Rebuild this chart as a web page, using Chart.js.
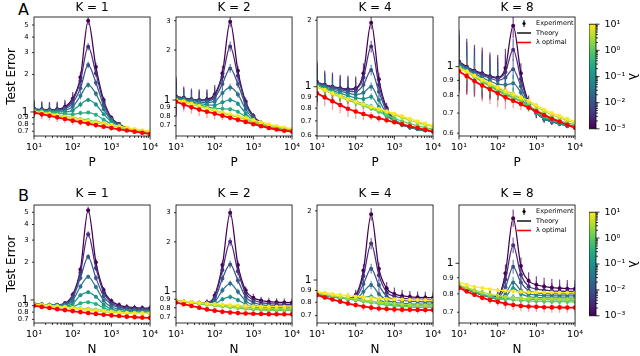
<!DOCTYPE html>
<html>
<head>
<meta charset="utf-8">
<script src="https://cdn.jsdelivr.net/npm/chart.js@4.4.1/dist/chart.umd.min.js"></script>
<style>
body { margin: 0; background: #fff; width: 640px; height: 356px; position: relative; overflow: hidden; font-family: 'DejaVu Sans', sans-serif; }
canvas { position: absolute; }
.letter { position: absolute; font-size: 16px; line-height: 16px; color: #000; }
</style>
</head>
<body>
<div class="letter" style="left:18px;top:1.5px">A</div>
<div class="letter" style="left:18px;top:188px">B</div>
<script>
// sample positions (P or N), shared by all panels
const xVals = [10, 15.85, 25.12, 39.81, 63.1, 100, 158.5, 251.2, 398.1, 631, 1000, 1585, 2512, 3981, 6310, 10000];
const lambdaLabels = ['1e-3', '3e-3', '1e-2', '3e-2', '1e-1', '3e-1', '1', '3', '10'];
const lamColors = ['#440154', '#472c7a', '#3b528b', '#2c728e', '#21918c', '#28ae80', '#5ec962', '#addc30', '#fde725'];
const viridis = ['#440154', '#482475', '#414487', '#355f8d', '#2a788e', '#21918c', '#22a884', '#44bf70', '#7ad151', '#bddf26', '#fde725'];
const legendLabels = ['Experiment', 'Theory', 'λ optimal'];
const titles = ['K = 1', 'K = 2', 'K = 4', 'K = 8'];

// test error, A row (vs P); one row per lambda
const errA1 = [
  [1.06,1.05,1.045,1.05,1.1,1.28,1.9,5.4,2.3,1.25,0.9,0.8,0.74,0.71,0.69,0.68],
  [1.055,1.045,1.04,1.045,1.08,1.24,1.78,3.35,2.05,1.2,0.89,0.795,0.74,0.71,0.69,0.68],
  [1.05,1.04,1.035,1.035,1.06,1.18,1.55,2.39,1.72,1.13,0.875,0.79,0.74,0.71,0.69,0.68],
  [1.045,1.035,1.025,1.02,1.03,1.1,1.35,1.65,1.4,1.05,0.86,0.785,0.735,0.708,0.69,0.68],
  [1.04,1.025,1.01,1.0,1.0,1.03,1.15,1.25,1.15,0.96,0.835,0.775,0.732,0.706,0.69,0.68],
  [1.03,1.015,0.995,0.98,0.965,0.96,0.98,0.99,0.95,0.87,0.8,0.76,0.728,0.705,0.69,0.68],
  [1.02,1.0,0.975,0.95,0.925,0.9,0.88,0.86,0.84,0.815,0.785,0.755,0.73,0.71,0.695,0.683],
  [1.01,0.99,0.965,0.94,0.912,0.885,0.86,0.838,0.818,0.798,0.777,0.755,0.735,0.717,0.703,0.69],
  [1.01,0.99,0.966,0.942,0.916,0.892,0.868,0.846,0.826,0.807,0.788,0.768,0.748,0.73,0.714,0.7]
];
const optA1 = [0.987,0.96,0.932,0.905,0.878,0.852,0.828,0.806,0.784,0.762,0.742,0.725,0.71,0.695,0.68,0.666];

const errA2 = [
  [1.05,1.03,1.01,1.0,1.01,1.08,1.45,2.96,1.5,0.98,0.8,0.73,0.69,0.67,0.66,0.655],
  [1.045,1.025,1.005,0.995,1.0,1.06,1.38,2.1,1.4,0.96,0.8,0.73,0.69,0.67,0.66,0.655],
  [1.04,1.02,1.0,0.99,0.985,1.03,1.25,1.55,1.25,0.93,0.79,0.725,0.69,0.67,0.66,0.655],
  [1.03,1.01,0.99,0.975,0.965,0.98,1.1,1.19,1.08,0.88,0.77,0.72,0.69,0.67,0.66,0.655],
  [1.02,1.0,0.975,0.955,0.935,0.93,0.97,1.0,0.95,0.83,0.75,0.71,0.685,0.67,0.66,0.655],
  [1.01,0.99,0.96,0.935,0.91,0.89,0.885,0.88,0.85,0.79,0.74,0.705,0.685,0.67,0.66,0.655],
  [1.0,0.98,0.95,0.92,0.89,0.865,0.84,0.815,0.79,0.76,0.735,0.71,0.69,0.675,0.665,0.658],
  [1.0,0.975,0.945,0.915,0.885,0.86,0.835,0.81,0.79,0.768,0.745,0.722,0.703,0.688,0.675,0.665],
  [1.0,0.978,0.95,0.92,0.892,0.866,0.842,0.82,0.8,0.78,0.758,0.735,0.715,0.698,0.684,0.672]
];
const optA2 = [0.975,0.94,0.905,0.875,0.85,0.828,0.805,0.782,0.76,0.738,0.715,0.695,0.678,0.664,0.653,0.645];

const errA4 = [
  [1.05,1.02,1.0,0.985,0.975,0.985,1.15,1.95,1.08,0.8,0.71,0.675,0.655,0.643,0.635,0.63],
  [1.045,1.015,0.995,0.98,0.97,0.975,1.1,1.52,1.02,0.79,0.71,0.675,0.655,0.643,0.635,0.63],
  [1.04,1.01,0.99,0.97,0.955,0.95,1.02,1.19,0.95,0.775,0.705,0.673,0.655,0.643,0.635,0.63],
  [1.03,1.0,0.975,0.955,0.935,0.92,0.94,1.0,0.87,0.755,0.7,0.672,0.655,0.643,0.635,0.63],
  [1.02,0.99,0.96,0.935,0.91,0.89,0.88,0.9,0.81,0.74,0.697,0.672,0.656,0.644,0.636,0.631],
  [1.01,0.975,0.945,0.915,0.885,0.86,0.835,0.815,0.775,0.735,0.703,0.678,0.661,0.648,0.639,0.633],
  [1.0,0.965,0.93,0.9,0.87,0.845,0.82,0.795,0.77,0.745,0.72,0.698,0.68,0.665,0.652,0.642],
  [1.0,0.965,0.932,0.902,0.875,0.85,0.828,0.806,0.786,0.766,0.745,0.725,0.705,0.687,0.672,0.66],
  [1.0,0.968,0.937,0.908,0.88,0.855,0.832,0.812,0.793,0.775,0.756,0.736,0.716,0.697,0.681,0.668]
];
const optA4 = [0.934,0.895,0.86,0.826,0.795,0.772,0.752,0.735,0.72,0.705,0.69,0.676,0.662,0.65,0.638,0.626];

const errA8 = [
  [1.04,1.0,0.97,0.95,0.93,0.92,0.99,1.37,0.95,0.76,0.7,0.67,0.655,0.645,0.635,0.63],
  [1.035,0.995,0.965,0.945,0.925,0.915,0.96,1.14,0.91,0.75,0.7,0.67,0.655,0.645,0.635,0.63],
  [1.03,0.99,0.96,0.935,0.915,0.9,0.92,0.98,0.86,0.745,0.7,0.67,0.655,0.645,0.635,0.63],
  [1.02,0.985,0.95,0.92,0.895,0.875,0.87,0.88,0.82,0.74,0.7,0.67,0.655,0.645,0.635,0.63],
  [1.01,0.975,0.94,0.905,0.875,0.85,0.83,0.81,0.78,0.735,0.7,0.675,0.66,0.645,0.635,0.63],
  [1.0,0.965,0.93,0.895,0.865,0.835,0.81,0.79,0.765,0.735,0.705,0.68,0.665,0.65,0.64,0.635],
  [0.995,0.96,0.925,0.89,0.86,0.83,0.805,0.785,0.765,0.74,0.715,0.695,0.675,0.66,0.65,0.64],
  [0.99,0.96,0.93,0.9,0.87,0.845,0.82,0.8,0.78,0.76,0.735,0.71,0.69,0.675,0.66,0.65],
  [0.99,0.965,0.935,0.905,0.88,0.855,0.83,0.81,0.79,0.77,0.745,0.72,0.7,0.685,0.67,0.655]
];
const optA8 = [0.965,0.93,0.895,0.865,0.84,0.815,0.79,0.77,0.75,0.73,0.71,0.69,0.67,0.655,0.64,0.625];

// test error, B row (vs N)
const errB1 = [
  [0.925,0.92,0.915,0.915,0.94,1.1,1.75,5.2,2.0,1.2,0.98,0.91,0.88,0.868,0.862,0.86],
  [0.925,0.92,0.915,0.914,0.935,1.08,1.65,3.34,1.8,1.15,0.95,0.89,0.865,0.853,0.847,0.845],
  [0.925,0.92,0.915,0.912,0.925,1.04,1.5,2.21,1.5,1.07,0.92,0.87,0.85,0.84,0.835,0.833],
  [0.925,0.92,0.914,0.91,0.915,0.99,1.28,1.53,1.27,0.99,0.88,0.845,0.83,0.823,0.82,0.818],
  [0.924,0.918,0.912,0.905,0.9,0.935,1.09,1.15,1.06,0.92,0.845,0.82,0.81,0.805,0.803,0.802],
  [0.923,0.916,0.908,0.898,0.888,0.885,0.94,0.96,0.93,0.865,0.82,0.803,0.795,0.792,0.79,0.79],
  [0.922,0.913,0.903,0.891,0.878,0.865,0.857,0.85,0.838,0.822,0.808,0.798,0.792,0.789,0.787,0.786],
  [0.922,0.912,0.9,0.887,0.872,0.857,0.843,0.83,0.818,0.806,0.796,0.789,0.784,0.781,0.78,0.78],
  [0.923,0.913,0.902,0.89,0.877,0.864,0.851,0.839,0.827,0.816,0.806,0.797,0.79,0.785,0.782,0.78]
];
const optB1 = [0.9,0.88,0.862,0.845,0.83,0.815,0.8,0.786,0.774,0.763,0.753,0.744,0.736,0.729,0.723,0.72];

const errB2 = [
  [0.88,0.87,0.86,0.855,0.86,0.95,1.45,3.0,1.45,1.02,0.92,0.885,0.87,0.864,0.861,0.86],
  [0.88,0.87,0.86,0.855,0.858,0.93,1.35,2.0,1.33,0.98,0.89,0.86,0.848,0.842,0.84,0.838],
  [0.88,0.87,0.86,0.855,0.855,0.9,1.2,1.46,1.17,0.93,0.86,0.835,0.825,0.82,0.818,0.817],
  [0.88,0.87,0.86,0.854,0.85,0.87,1.02,1.12,1.0,0.88,0.83,0.812,0.805,0.801,0.8,0.8],
  [0.88,0.87,0.86,0.852,0.845,0.845,0.9,0.93,0.89,0.84,0.808,0.795,0.789,0.786,0.785,0.785],
  [0.88,0.87,0.859,0.85,0.84,0.832,0.826,0.82,0.812,0.803,0.795,0.788,0.784,0.782,0.781,0.78],
  [0.88,0.869,0.857,0.846,0.835,0.825,0.815,0.805,0.796,0.788,0.781,0.776,0.773,0.771,0.77,0.77],
  [0.881,0.871,0.86,0.85,0.84,0.831,0.823,0.815,0.808,0.801,0.796,0.792,0.789,0.787,0.786,0.786],
  [0.883,0.875,0.866,0.858,0.85,0.843,0.837,0.831,0.826,0.822,0.818,0.815,0.813,0.812,0.811,0.81]
];
const optB2 = [0.86,0.84,0.82,0.8,0.782,0.768,0.757,0.749,0.743,0.739,0.736,0.734,0.732,0.731,0.73,0.73];

const errB4 = [
  [0.87,0.855,0.845,0.838,0.835,0.86,1.1,1.93,1.12,0.92,0.87,0.852,0.845,0.841,0.839,0.838],
  [0.87,0.855,0.845,0.838,0.834,0.85,1.04,1.44,1.05,0.885,0.85,0.835,0.828,0.825,0.823,0.822],
  [0.87,0.855,0.845,0.838,0.832,0.84,0.96,1.12,0.95,0.85,0.825,0.815,0.81,0.806,0.804,0.803],
  [0.87,0.855,0.845,0.837,0.83,0.83,0.89,0.95,0.87,0.815,0.8,0.792,0.788,0.786,0.785,0.785],
  [0.87,0.856,0.845,0.836,0.828,0.822,0.84,0.846,0.82,0.795,0.785,0.779,0.776,0.775,0.775,0.775],
  [0.871,0.857,0.846,0.836,0.827,0.82,0.814,0.808,0.8,0.79,0.782,0.776,0.773,0.772,0.771,0.771],
  [0.873,0.86,0.848,0.838,0.828,0.818,0.808,0.798,0.788,0.779,0.772,0.767,0.763,0.761,0.76,0.76],
  [0.878,0.866,0.855,0.845,0.836,0.827,0.818,0.81,0.802,0.795,0.789,0.784,0.78,0.778,0.777,0.777],
  [0.89,0.88,0.87,0.862,0.855,0.848,0.842,0.836,0.831,0.827,0.824,0.822,0.82,0.819,0.818,0.818]
];
const optB4 = [0.86,0.84,0.822,0.805,0.79,0.778,0.767,0.758,0.752,0.748,0.745,0.743,0.742,0.741,0.74,0.74];

const errB8 = [
  [0.85,0.83,0.81,0.795,0.785,0.79,0.93,1.39,0.98,0.88,0.855,0.845,0.838,0.834,0.831,0.83],
  [0.85,0.83,0.81,0.795,0.785,0.785,0.89,1.14,0.92,0.845,0.83,0.822,0.818,0.816,0.815,0.815],
  [0.85,0.83,0.81,0.795,0.783,0.778,0.84,0.975,0.87,0.82,0.808,0.803,0.8,0.8,0.8,0.8],
  [0.85,0.83,0.81,0.795,0.782,0.772,0.8,0.87,0.82,0.8,0.793,0.79,0.789,0.788,0.788,0.788],
  [0.85,0.83,0.81,0.795,0.78,0.77,0.78,0.834,0.8,0.785,0.78,0.778,0.777,0.777,0.776,0.776],
  [0.85,0.83,0.812,0.797,0.783,0.772,0.772,0.78,0.775,0.77,0.768,0.767,0.766,0.766,0.765,0.765],
  [0.852,0.832,0.815,0.8,0.787,0.777,0.77,0.766,0.763,0.76,0.758,0.757,0.756,0.756,0.755,0.755],
  [0.855,0.837,0.822,0.81,0.798,0.79,0.783,0.778,0.775,0.773,0.772,0.771,0.771,0.77,0.77,0.77],
  [0.87,0.855,0.843,0.835,0.828,0.822,0.818,0.815,0.812,0.81,0.809,0.808,0.808,0.807,0.807,0.807]
];
const optB8 = [0.837,0.815,0.795,0.778,0.765,0.755,0.745,0.738,0.733,0.73,0.728,0.726,0.725,0.725,0.724,0.724];

// relative error-bar half widths (for the smallest lambda) per panel
const barA1 = [0.17,0.16,0.15,0.15,0.14,0.13,0.11,0.08,0.08,0.06,0.045,0.035,0.03,0.025,0.02,0.02];
const barA2 = [0.32,0.17,0.16,0.16,0.15,0.14,0.11,0.08,0.07,0.055,0.045,0.035,0.025,0.02,0.02,0.02];
const barA4 = [0.24,0.16,0.16,0.15,0.15,0.13,0.11,0.07,0.07,0.055,0.04,0.03,0.025,0.02,0.02,0.02];
const barA8 = [0.27,0.24,0.22,0.22,0.2,0.19,0.16,0.1,0.08,0.055,0.04,0.03,0.025,0.02,0.02,0.02];
const barB1 = [0.035,0.035,0.035,0.035,0.045,0.055,0.065,0.065,0.065,0.055,0.055,0.055,0.055,0.055,0.055,0.055];
const barB2 = [0.035,0.035,0.035,0.035,0.045,0.055,0.065,0.065,0.065,0.055,0.055,0.055,0.055,0.055,0.055,0.055];
const barB4 = [0.035,0.035,0.035,0.035,0.045,0.055,0.065,0.065,0.065,0.065,0.065,0.065,0.06,0.06,0.06,0.06];
const barB8 = [0.03,0.03,0.03,0.035,0.045,0.055,0.065,0.065,0.065,0.065,0.065,0.065,0.065,0.065,0.065,0.065];
const lamBarScale = [1, 0.9, 0.8, 0.65, 0.5, 0.4, 0.3, 0.25, 0.2];
const optBarScale = 0.6;

// y ticks per panel
const yTicksA1 = [0.7, 0.8, 0.9, 1, 2, 3, 4, 5];
const yTicksA2 = [0.7, 0.8, 0.9, 1, 2, 3];
const yTicksA4 = [0.6, 0.7, 0.8, 0.9, 1, 2];
const yTicksA8 = [0.6, 0.7, 0.8, 0.9, 1];
const yTicksB1 = [0.7, 0.8, 0.9, 1, 2, 3, 4, 5];
const yTicksB2 = [0.7, 0.8, 0.9, 1, 2, 3];
const yTicksB4 = [0.7, 0.8, 0.9, 1, 2];
const yTicksB8 = [0.7, 0.8, 0.9, 1];
const xLabels = { 10: '10¹', 100: '10²', 1000: '10³', 10000: '10⁴' };
const cbMajor = [0.001, 0.01, 0.1, 1, 10];
const cbLabels = { '-3': '10⁻³', '-2': '10⁻²', '-1': '10⁻¹', '0': '10⁰', '1': '10¹' };

const panels = [
  { row: 0, col: 0, curves: errA1, opt: optA1, bars: barA1, y: [0.641, 5.8], yTicks: yTicksA1, xTitle: 'P' },
  { row: 0, col: 1, curves: errA2, opt: optA2, bars: barA2, y: [0.607, 3.16], yTicks: yTicksA2, xTitle: 'P' },
  { row: 0, col: 2, curves: errA4, opt: optA4, bars: barA4, y: [0.598, 2.07], yTicks: yTicksA4, xTitle: 'P' },
  { row: 0, col: 3, curves: errA8, opt: optA8, bars: barA8, y: [0.587, 1.465], yTicks: yTicksA8, xTitle: 'P' },
  { row: 1, col: 0, curves: errB1, opt: optB1, bars: barB1, y: [0.655, 5.72], yTicks: yTicksB1, xTitle: 'N' },
  { row: 1, col: 1, curves: errB2, opt: optB2, bars: barB2, y: [0.647, 3.34], yTicks: yTicksB2, xTitle: 'N' },
  { row: 1, col: 2, curves: errB4, opt: optB4, bars: barB4, y: [0.65, 2.12], yTicks: yTicksB4, xTitle: 'N' },
  { row: 1, col: 3, curves: errB8, opt: optB8, bars: barB8, y: [0.647, 1.53], yTicks: yTicksB8, xTitle: 'N' }
];

// layout
const colLeft = [34, 176, 317, 459];
const plotW = 118;
const rowTop = [17, 205];
const plotH = [119, 118];
const titleH = [17, 20];
const titlePad = [{ top: 0.8, bottom: 1.8 }, { top: 1.8, bottom: 3.8 }];
const axisH = 40;
const padRight = 12;
const cbLeft = 589, cbW = 7;

Chart.defaults.font.family = 'DejaVu Sans';
Chart.defaults.color = '#000';

function isPow10(v) {
  const l = Math.log10(v);
  return Math.abs(l - Math.round(l)) < 1e-6;
}
function minorTicks(lo, hi) {
  const out = [];
  for (let e = Math.floor(Math.log10(lo)); e < Math.ceil(Math.log10(hi)); e++) {
    for (let m = 1; m < 10; m++) {
      const v = m * Math.pow(10, e);
      if (v >= lo * 0.9999 && v <= hi * 1.0001) out.push(v);
    }
  }
  if (isPow10(hi)) out.push(hi);
  return out;
}

const frameTicks = {
  id: 'frameTicks',
  afterDraw(chart) {
    const { ctx, chartArea: a, scales } = chart;
    ctx.save();
    ctx.strokeStyle = '#000';
    ctx.lineWidth = 0.8;
    ctx.strokeRect(a.left, a.top, a.right - a.left, a.bottom - a.top);
    ctx.beginPath();
    for (const t of scales.x.ticks) {
      const px = scales.x.getPixelForValue(t.value);
      const len = isPow10(t.value) ? 3.5 : 2;
      ctx.moveTo(px, a.bottom); ctx.lineTo(px, a.bottom + len);
    }
    for (const t of scales.y.ticks) {
      const py = scales.y.getPixelForValue(t.value);
      const len = isPow10(t.value) ? 3.5 : 2;
      ctx.moveTo(a.left - len, py); ctx.lineTo(a.left, py);
    }
    ctx.stroke();
    ctx.restore();
  }
};

const errorBars = {
  id: 'errorBars',
  beforeDatasetsDraw(chart) {
    const { ctx, chartArea: a, scales: { x, y } } = chart;
    ctx.save();
    ctx.beginPath();
    ctx.rect(a.left, a.top, a.right - a.left, a.bottom - a.top);
    ctx.clip();
    ctx.lineWidth = 1.2;
    chart.data.datasets.forEach(ds => {
      if (!ds.barFrac) return;
      ctx.strokeStyle = ds.barColor;
      ctx.beginPath();
      ds.data.forEach((p, i) => {
        const f = ds.barFrac[i];
        const px = x.getPixelForValue(p.x);
        ctx.moveTo(px, y.getPixelForValue(p.y * (1 + f)));
        ctx.lineTo(px, y.getPixelForValue(p.y / (1 + f)));
      });
      ctx.stroke();
    });
    ctx.restore();
  }
};

const lambdaLegend = {
  id: 'lambdaLegend',
  afterDraw(chart) {
    const { ctx, chartArea: a } = chart;
    const tx = a.right - 39, s0 = a.right - 58, s1 = a.right - 44;
    const rows = [a.top + 6.5, a.top + 16, a.top + 25.5];
    ctx.save();
    ctx.font = '6.5px "DejaVu Sans"';
    ctx.textBaseline = 'middle';
    ctx.fillStyle = '#000';
    legendLabels.forEach((t, i) => ctx.fillText(t, tx, rows[i]));
    const mx = (s0 + s1) / 2;
    ctx.strokeStyle = '#000';
    ctx.lineWidth = 1;
    ctx.beginPath(); ctx.moveTo(mx, rows[0] - 3.5); ctx.lineTo(mx, rows[0] + 3.5); ctx.stroke();
    ctx.beginPath(); ctx.arc(mx, rows[0], 1.6, 0, Math.PI * 2); ctx.fill();
    ctx.lineWidth = 1.4;
    ctx.beginPath(); ctx.moveTo(s0, rows[1]); ctx.lineTo(s1, rows[1]); ctx.stroke();
    ctx.strokeStyle = '#ff0000';
    ctx.lineWidth = 1.6;
    ctx.beginPath(); ctx.moveTo(s0, rows[2]); ctx.lineTo(s1, rows[2]); ctx.stroke();
    ctx.restore();
  }
};

function withAlpha(hex, a) {
  const n = parseInt(hex.slice(1), 16);
  return `rgba(${n >> 16},${(n >> 8) & 255},${n & 255},${a})`;
}

function makePanel(p) {
  const r = p.row, c = p.col;
  const lw = c === 0 ? 34 : 24;
  const cv = document.createElement('canvas');
  cv.width = lw + plotW + padRight;
  cv.height = titleH[r] + plotH[r] + axisH;
  cv.style.left = (colLeft[c] - lw) + 'px';
  cv.style.top = (rowTop[r] - titleH[r]) + 'px';
  document.body.appendChild(cv);

  const n = p.curves.length;
  const datasets = p.curves.map((vals, j) => ({
    label: 'λ = ' + lambdaLabels[j],
    data: xVals.map((x, i) => ({ x, y: vals[i] })),
    borderColor: lamColors[j],
    backgroundColor: lamColors[j],
    barColor: withAlpha(lamColors[j], 0.7),
    barFrac: p.bars.map(b => b * lamBarScale[j]),
    borderWidth: 1.25,
    pointRadius: 2,
    pointBorderWidth: 0,
    cubicInterpolationMode: 'monotone',
    order: n + 2 - j
  }));
  datasets.push({
    label: 'λ optimal',
    data: xVals.map((x, i) => ({ x, y: p.opt[i] })),
    borderColor: '#ff0000',
    backgroundColor: '#ff0000',
    barColor: 'rgba(255,70,70,0.55)',
    barFrac: p.bars.map(b => b * optBarScale),
    borderWidth: 1.8,
    pointRadius: 2.3,
    pointBorderWidth: 0,
    cubicInterpolationMode: 'monotone',
    order: 0
  });

  const plugins = [errorBars, frameTicks];
  if (c === 3) plugins.push(lambdaLegend);

  new Chart(cv, {
    type: 'line',
    data: { datasets },
    options: {
      responsive: false,
      animation: false,
      events: [],
      layout: { autoPadding: false, padding: { left: 0, right: padRight, top: 0, bottom: 0 } },
      plugins: {
        legend: { display: false },
        tooltip: { enabled: false },
        title: {
          display: true, text: titles[c], fullSize: false,
          font: { size: 12, weight: 'normal', lineHeight: 1.2 },
          padding: titlePad[r], color: '#000'
        }
      },
      scales: {
        x: {
          type: 'logarithmic', min: 10, max: 10000, bounds: 'data',
          grid: { display: false, drawTicks: false },
          border: { display: false },
          afterBuildTicks: s => { s.ticks = minorTicks(10, 10000).map(v => ({ value: v })); },
          afterFit: s => { s.height = axisH; },
          ticks: {
            autoSkip: false, maxRotation: 0, padding: 6,
            font: { size: 9.5 },
            callback: v => (isPow10(v) ? xLabels[Math.round(v)] : '')
          },
          title: { display: true, text: p.xTitle, font: { size: 12 }, padding: { top: 0, bottom: 6 } }
        },
        y: {
          type: 'logarithmic', min: p.y[0], max: p.y[1], bounds: 'data',
          grid: { display: false, drawTicks: false },
          border: { display: false },
          afterBuildTicks: s => { s.ticks = p.yTicks.map(v => ({ value: v })); },
          afterFit: s => { s.width = lw; },
          ticks: {
            autoSkip: false, padding: 5.5,
            font: ctx => ({ size: ctx.tick && ctx.tick.value === 1 ? 10.5 : 6.8 }),
            callback: v => String(v)
          },
          title: { display: c === 0, text: 'Test Error', font: { size: 12 }, padding: { top: 4.2, bottom: 0 } }
        }
      }
    },
    plugins
  });
}

const cbFrame = {
  id: 'cbFrame',
  afterDraw(chart) {
    const { ctx, chartArea: a, scales: { y } } = chart;
    ctx.save();
    ctx.strokeStyle = '#000';
    ctx.lineWidth = 0.8;
    ctx.strokeRect(a.left, a.top, a.right - a.left, a.bottom - a.top);
    ctx.beginPath();
    for (const t of y.ticks) {
      const py = y.getPixelForValue(t.value);
      const len = isPow10(t.value) ? 3.5 : 2;
      ctx.moveTo(a.right, py); ctx.lineTo(a.right + len, py);
    }
    ctx.stroke();
    ctx.restore();
  }
};

function makeColorbar(r) {
  const cv = document.createElement('canvas');
  cv.width = cbW + 44;
  cv.height = plotH[r] + 14;
  cv.style.left = cbLeft + 'px';
  cv.style.top = (rowTop[r] - 7) + 'px';
  document.body.appendChild(cv);
  new Chart(cv, {
    type: 'bar',
    data: {
      labels: ['λ'],
      datasets: [{
        data: [[cbMajor[0], cbMajor[cbMajor.length - 1]]],
        backgroundColor: ctx => {
          const a = ctx.chart.chartArea;
          if (!a) return viridis[5];
          const g = ctx.chart.ctx.createLinearGradient(0, a.bottom, 0, a.top);
          viridis.forEach((col, i) => g.addColorStop(i / (viridis.length - 1), col));
          return g;
        },
        borderWidth: 0,
        barPercentage: 1,
        categoryPercentage: 1
      }]
    },
    options: {
      responsive: false,
      animation: false,
      events: [],
      layout: { autoPadding: false, padding: { top: 7, bottom: 7, left: 0, right: 0 } },
      plugins: { legend: { display: false }, tooltip: { enabled: false } },
      scales: {
        x: { display: false },
        y: {
          type: 'logarithmic', position: 'right', min: 0.001, max: 10, bounds: 'data',
          grid: { display: false, drawTicks: false },
          border: { display: false },
          afterBuildTicks: s => { s.ticks = minorTicks(0.001, 10).map(v => ({ value: v })); },
          afterFit: s => { s.width = 44; },
          ticks: {
            autoSkip: false, padding: 8.5, font: { size: 9.5 },
            callback: v => (isPow10(v) ? cbLabels[String(Math.round(Math.log10(v)))] : '')
          },
          title: { display: true, text: 'λ', font: { size: 12 }, padding: { top: 0.8, bottom: 0 } }
        }
      }
    },
    plugins: [cbFrame]
  });
}

panels.forEach(makePanel);
makeColorbar(0);
makeColorbar(1);
</script>
</body>
</html>
